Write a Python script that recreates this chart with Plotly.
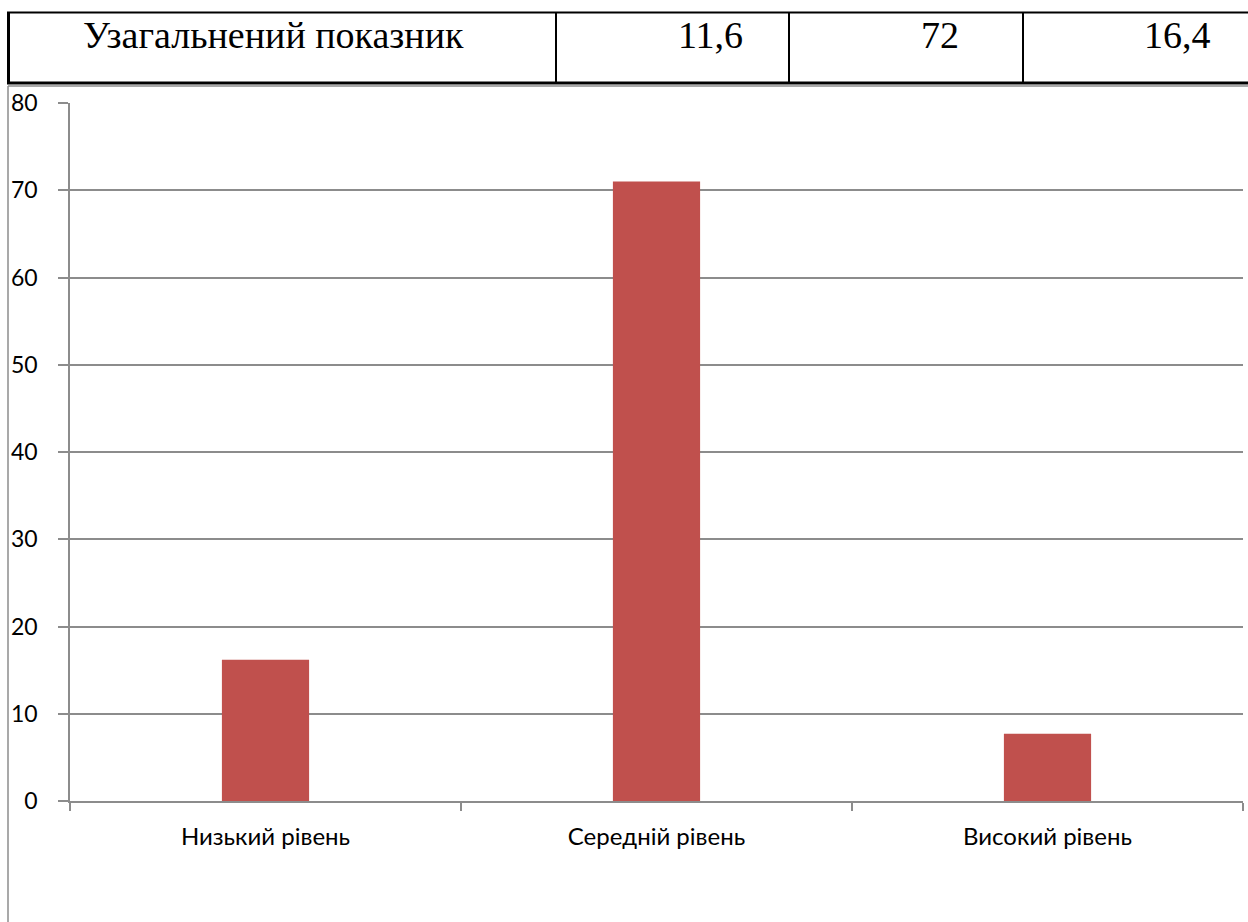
import plotly.graph_objects as go

# Chart data
categories = ["Низький рівень", "Середній рівень", "Високий рівень"]
values = [16.2, 71.0, 7.7]
y_ticks = [0, 10, 20, 30, 40, 50, 60, 70, 80]

# Summary row above the chart
row_label = "Узагальнений показник"
row_values = ["11,6", "72", "16,4"]

W, H = 1248, 922


def px_x(x):
    return x / W


def px_y(y):
    return 1 - y / H


BAR_COLOR = "#C0504D"
GRID = "#8C8C8C"
SERIF = "Liberation Serif, Times New Roman, serif"

fig = go.Figure(
    go.Bar(
        x=categories,
        y=values,
        marker=dict(color=BAR_COLOR, line=dict(width=0)),
        width=0.223,
        hoverinfo="x+y",
    )
)

fig.update_layout(
    width=W,
    height=H,
    margin=dict(l=0, r=0, t=0, b=0, autoexpand=False),
    paper_bgcolor="white",
    plot_bgcolor="white",
    showlegend=False,
    font=dict(family="Lato, Open Sans, sans-serif", color="black"),
    xaxis=dict(
        domain=[px_x(70), px_x(1243)],
        range=[-0.5, 2.5],
        automargin=False,
        tickson="boundaries",
        ticks="outside",
        ticklen=8,
        tickwidth=1.5,
        tickcolor=GRID,
        showline=True,
        linecolor=GRID,
        linewidth=1.5,
        showgrid=False,
        tickfont=dict(size=24, family="Lato", color="black"),
        ticklabelstandoff=13,
    ),
    yaxis=dict(
        domain=[px_y(801), px_y(103)],
        range=[0, 80],
        automargin=False,
        tickvals=y_ticks,
        ticks="outside",
        ticklen=10,
        tickwidth=1.5,
        tickcolor=GRID,
        showline=True,
        linecolor=GRID,
        linewidth=1.5,
        showgrid=True,
        gridcolor=GRID,
        gridwidth=1.5,
        zeroline=False,
        tickfont=dict(size=23, family="Lato", color="black"),
        ticklabelstandoff=16,
    ),
)

shapes = []

# Chart frame (top and left edges)
shapes.append(dict(type="line", xref="paper", yref="paper",
                   x0=px_x(8), x1=1, y0=px_y(86), y1=px_y(86),
                   line=dict(color=GRID, width=1.5)))
shapes.append(dict(type="line", xref="paper", yref="paper",
                   x0=px_x(8), x1=px_x(8), y0=px_y(86), y1=0,
                   line=dict(color=GRID, width=1.5)))

# Table borders
shapes.append(dict(type="line", xref="paper", yref="paper",
                   x0=px_x(7), x1=1, y0=px_y(12.5), y1=px_y(12.5),
                   line=dict(color="black", width=2)))
shapes.append(dict(type="line", xref="paper", yref="paper",
                   x0=px_x(7), x1=1, y0=px_y(83), y1=px_y(83),
                   line=dict(color="black", width=3)))
for cx, lw in [(8.5, 3), (556, 2), (789, 2), (1023, 2)]:
    shapes.append(dict(type="line", xref="paper", yref="paper",
                       x0=px_x(cx), x1=px_x(cx), y0=px_y(12), y1=px_y(83),
                       line=dict(color="black", width=lw)))

fig.update_layout(shapes=shapes)

# Table text
cell_centers = [710, 940, 1177]
annotations = [
    dict(text=row_label, x=px_x(273), y=px_y(35), xref="paper", yref="paper",
         xanchor="center", yanchor="middle", showarrow=False,
         font=dict(family=SERIF, size=38, color="black"))
]
for cx, v in zip(cell_centers, row_values):
    annotations.append(
        dict(text=v, x=px_x(cx), y=px_y(35), xref="paper", yref="paper",
             xanchor="center", yanchor="middle", showarrow=False,
             font=dict(family=SERIF, size=38, color="black"))
    )
fig.update_layout(annotations=annotations)

fig.write_html("out.html")
